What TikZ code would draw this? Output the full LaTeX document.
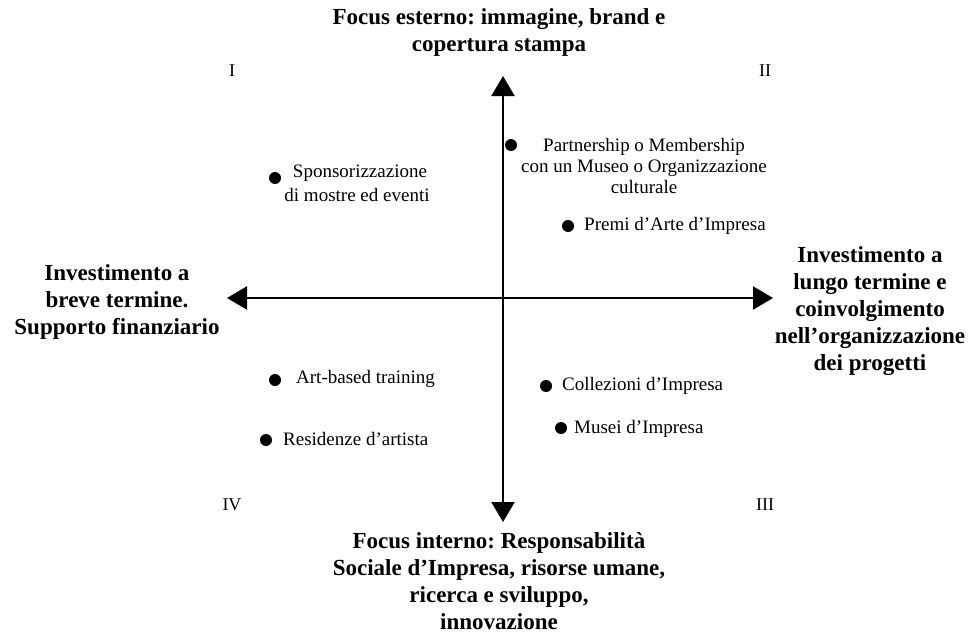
\documentclass[tikz,border=0pt]{standalone}
\usepackage{fontspec}
\setmainfont{Liberation Serif}
\usetikzlibrary{arrows.meta}
\frenchspacing

\begin{document}
\begin{tikzpicture}[x=1pt,y=-1pt,
    axis/.style={line width=2.4pt,
        {Triangle[length=20pt,width=23pt]}-{Triangle[length=20pt,width=23pt]}},
    title/.style={font=\fontsize{23}{27}\selectfont\bfseries, align=center, inner sep=0pt},
    item/.style={font=\fontsize{19}{21}\selectfont, align=center, inner sep=0pt},
    quad/.style={font=\fontsize{18}{21}\selectfont, inner sep=0pt},
    dot/.style={circle, fill, inner sep=0pt, minimum size=12pt}]
    \useasboundingbox (0,0) rectangle (972,634);

    % axes
    \coordinate (west) at (227,298);
    \coordinate (east) at (773,298);
    \coordinate (north) at (503,76);
    \coordinate (south) at (503,522);
    \draw[axis] (west) -- (east);
    \draw[axis] (south) -- (north);

    % axis titles
    \node[title] (top) at (499,32) {Focus esterno: immagine, brand e\\copertura stampa};
    \node[title] (bottom) at (499,581) {Focus interno: Responsabilità\\Sociale d'Impresa, risorse umane,\\ricerca e sviluppo,\\innovazione};
    \node[title] (left) at (117,302) {Investimento a\\breve termine.\\Supporto finanziario};
    \node[title] (right) at (870,311) {Investimento a\\lungo termine e\\coinvolgimento\\nell'organizzazione\\dei progetti};

    % quadrants
    \node[quad] (q1) at (232,71) {I};
    \node[quad] (q2) at (765,71) {II};
    \node[quad] (q3) at (765,505) {III};
    \node[quad] (q4) at (232,505) {IV};

    % items
    \node[dot] (sponsor) at (275,178) {};
    \node[item] (sponsortxt) at (357,183) {\hspace{6pt}Sponsorizzazione\\[3pt]di mostre ed eventi};
    \node[dot] (partner) at (511,145) {};
    \node[item] (partnertxt) at (644,166) {Partnership o Membership\\con un Museo o Organizzazione\\culturale};
    \node[dot] (premi) at (568,226) {};
    \node[item, anchor=west] (premitxt) at (584,226) {Premi d'Arte d'Impresa};
    \node[dot] (art) at (275,380) {};
    \node[item, anchor=west] (arttxt) at (296,379) {Art-based training};
    \node[dot] (resid) at (266,440) {};
    \node[item, anchor=west] (residtxt) at (283,439) {Residenze d'artista};
    \node[dot] (coll) at (546,386) {};
    \node[item, anchor=west] (colltxt) at (562,386) {Collezioni d'Impresa};
    \node[dot] (musei) at (561,428) {};
    \node[item, anchor=west] (museitxt) at (574,429) {Musei d'Impresa};
\end{tikzpicture}
\end{document}
